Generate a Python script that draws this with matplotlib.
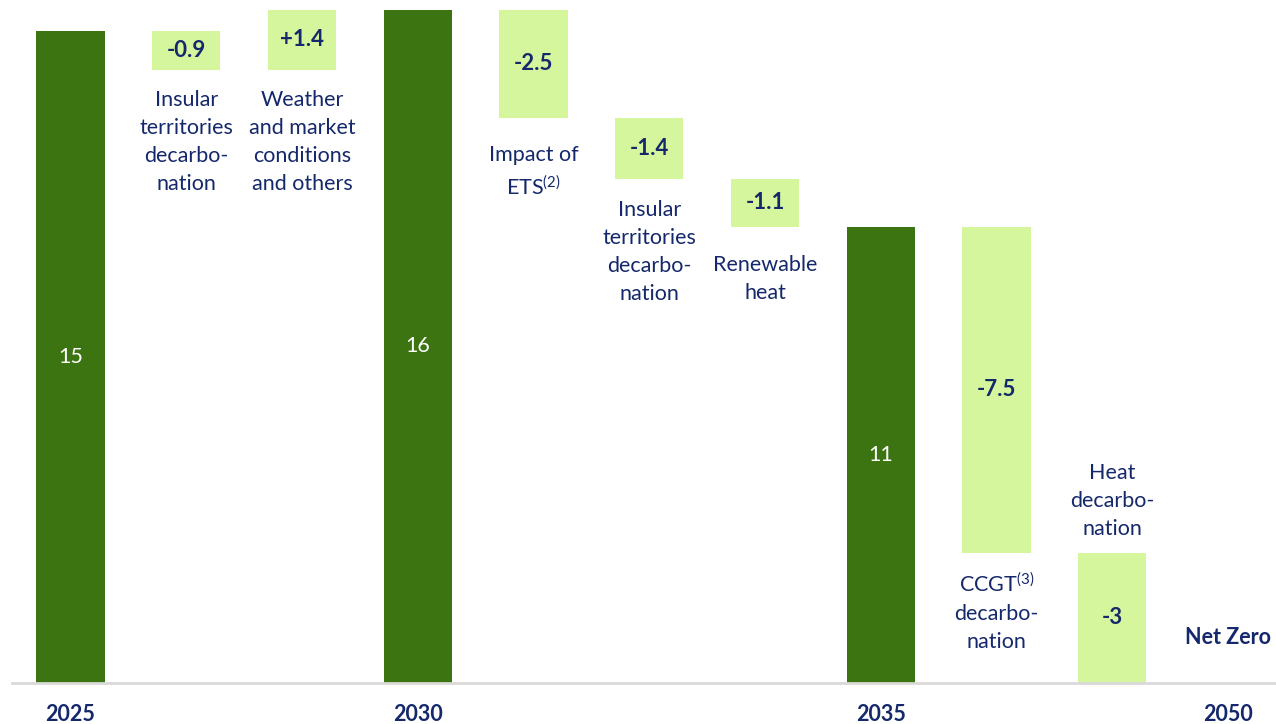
import matplotlib
matplotlib.use("Agg")
import matplotlib.pyplot as plt

# ---- data ----
kinds = ["total", "delta", "delta", "total", "delta", "delta", "delta", "total", "delta", "delta", "total"]
values = [15, -0.9, 1.4, 15.5, -2.5, -1.4, -1.1, 10.5, -7.5, -3, 0]
bar_labels = ["15", "-0.9", "+1.4", "16", "-2.5", "-1.4", "-1.1", "11", "-7.5", "-3", "Net Zero"]
descriptions = ["", "Insular\nterritories\ndecarbo-\nnation", "Weather\nand market\nconditions\nand others", "",
                "Impact of\nETS$^{(2)}$", "Insular\nterritories\ndecarbo-\nnation", "Renewable\nheat", "",
                "CCGT$^{(3)}$\ndecarbo-\nnation", "Heat\ndecarbo-\nnation", ""]
desc_side = ["", "below", "below", "", "below", "below", "below", "", "below", "above", ""]
year_labels = ["2025", "2030", "2035", "2050"]

# ---- style ----
desc_offset = [0, 14, 14, 0, 19, 15, 20, 0, 14, 10, 0]  # points
DARK = "#3B7410"
LIGHT = "#D5F69C"
NAVY = "#15286B"
FONT = "Lato"

plt.rcParams["font.family"] = [FONT, "DejaVu Sans"]
plt.rcParams["mathtext.fontset"] = "custom"
plt.rcParams["mathtext.rm"] = FONT
plt.rcParams["mathtext.it"] = FONT
plt.rcParams["mathtext.bf"] = FONT + ":bold"

fig = plt.figure(figsize=(12.76, 7.24), dpi=100)
ax = fig.add_axes([12 / 1276, 1 - 683 / 724, 1 - 12 / 1276, 683 / 724])

x = list(range(len(values)))
bottoms, heights, colors = [], [], []
level = 0.0
for k, v in zip(kinds, values):
    if k == "total":
        level = v
        bottoms.append(0)
        heights.append(v)
        colors.append(DARK)
    else:
        new = level + v
        bottoms.append(min(level, new))
        heights.append(abs(v))
        colors.append(LIGHT)
        level = new

width = 0.59
ax.bar(x, heights, bottom=bottoms, width=width, color=colors, linewidth=0)

fs = 15.5
for i, (k, b, h, lab) in enumerate(zip(kinds, bottoms, heights, bar_labels)):
    if k == "total":
        if h > 0:
            ax.text(i, b + h / 2, lab, ha="center", va="center", color="white", fontsize=fs)
        else:
            ax.text(i, 1.05, lab, ha="center", va="center", color=NAVY, fontsize=fs, fontweight="bold")
    else:
        ax.text(i, b + h / 2, lab, ha="center", va="center", color=NAVY, fontsize=fs + 0.5, fontweight="bold")
    d = descriptions[i]
    if d:
        if desc_side[i] == "below":
            ax.annotate(d, (i, b), xytext=(0, -desc_offset[i]), textcoords="offset points", ha="center",
                        va="top", color=NAVY, fontsize=fs, linespacing=1.5)
        else:
            ax.annotate(d, (i, b + h), xytext=(0, desc_offset[i]), textcoords="offset points", ha="center",
                        va="bottom", color=NAVY, fontsize=fs, linespacing=1.5)

ax.set_xlim(-0.505, (1276 - 70.5) / 115.75)
ax.set_ylim(0, 683 / 43.45)
for s in ["top", "right", "left"]:
    ax.spines[s].set_visible(False)
ax.spines["bottom"].set_color("#D9D9D9")
ax.spines["bottom"].set_linewidth(2)
ax.set_yticks([])
tick_pos = [i for i, k in enumerate(kinds) if k == "total"]
ax.set_xticks(tick_pos)
ax.set_xticklabels(year_labels, fontsize=fs, fontweight="bold", color=NAVY)
ax.tick_params(axis="x", length=0, pad=15)

fig.savefig("out.png", dpi=100)
